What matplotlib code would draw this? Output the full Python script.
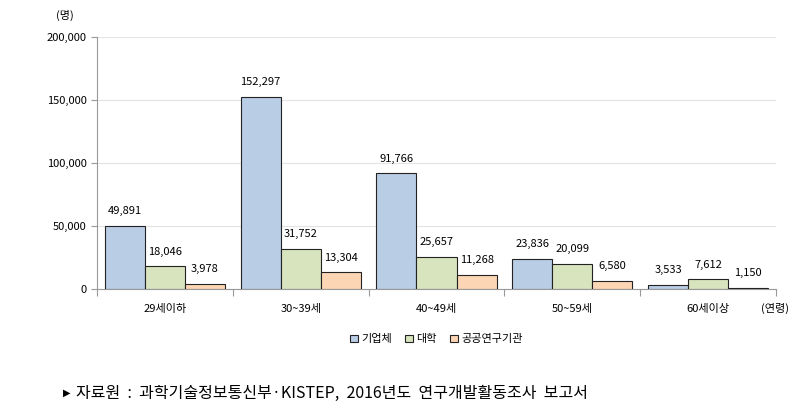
import matplotlib.pyplot as plt
import numpy as np

plt.rcParams['font.family'] = ['Noto Sans CJK KR', 'DejaVu Sans']

# 데이터
연령대 = ['29세이하', '30~39세', '40~49세', '50~59세', '60세이상']
기업체 = [49891, 152297, 91766, 23836, 3533]
대학 = [18046, 31752, 25657, 20099, 7612]
공공연구기관 = [3978, 13304, 11268, 6580, 1150]
계열 = ['기업체', '대학', '공공연구기관']
색상 = ['#B9CDE5', '#D7E4BD', '#FCD5B5']

fig = plt.figure(figsize=(7.97, 4.18), dpi=100)
ax = fig.add_axes([0.1217, 0.3086, 0.852, 0.603])

x = np.arange(len(연령대))
w = 0.295
for i, (vals, name, c) in enumerate(zip([기업체, 대학, 공공연구기관], 계열, 색상)):
    pos = x + (i - 1) * w
    ax.bar(pos, vals, width=w, color=c, edgecolor='#222222', linewidth=0.8, label=name, zorder=3)
    for p, v in zip(pos, vals):
        ax.annotate(f'{v:,}', (p, v), xytext=(0, 7), textcoords='offset points',
                    ha='center', va='bottom', fontsize=8)

ax.set_xlim(-0.5, 4.5)
ax.set_ylim(0, 200000)
ax.set_yticks([0, 50000, 100000, 150000, 200000])
ax.set_yticklabels([f'{v:,}' for v in [0, 50000, 100000, 150000, 200000]], fontsize=8)
ax.yaxis.grid(True, color='#E4E4E4', linewidth=0.8, zorder=0)

ax.set_xticks(np.arange(-0.5, 5, 1))
ax.set_xticklabels([])
ax.set_xticks(x, minor=True)
ax.set_xticklabels(연령대, minor=True, fontsize=8)
ax.tick_params(axis='x', which='minor', length=0, pad=11)
ax.tick_params(axis='x', which='major', length=5, color='#999999')
ax.tick_params(axis='y', length=4, color='#999999')

for s in ['top', 'right']:
    ax.spines[s].set_visible(False)
for s in ['left', 'bottom']:
    ax.spines[s].set_color('#999999')

fig.text(65 / 797, 1 - 15 / 418, '(명)', fontsize=8, ha='center', va='center')
fig.text(775 / 797, 1 - 308 / 418, '(연령)', fontsize=8, ha='center', va='center')

ax.legend(loc='center', bbox_to_anchor=(0.5, -0.2), ncol=3, frameon=False, fontsize=8,
          handlelength=0.7, handleheight=0.7, handletextpad=0.3, columnspacing=1.2)

# 출처
fig.text(63 / 797, 1 - 393 / 418, '▶', fontsize=7, ha='left', va='center', family=['DejaVu Sans'])
fig.text(76 / 797, 1 - 393 / 418, '자료원  :  과학기술정보통신부·KISTEP,  2016년도  연구개발활동조사  보고서',
         fontsize=11.5, ha='left', va='center')

fig.savefig('out.png', dpi=100)
